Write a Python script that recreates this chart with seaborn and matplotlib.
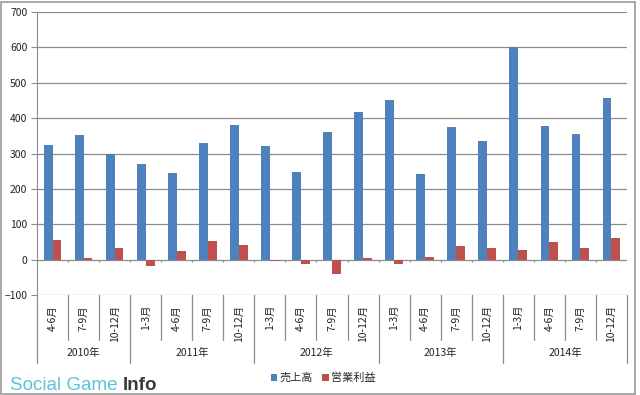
import numpy as np
import pandas as pd
import seaborn as sns
import matplotlib.pyplot as plt
import matplotlib.transforms as mtransforms
from matplotlib.patches import Rectangle, Patch

# quarterly figures
quarter_labels = [
    "4-6月", "7-9月", "10-12月",
    "1-3月", "4-6月", "7-9月", "10-12月",
    "1-3月", "4-6月", "7-9月", "10-12月",
    "1-3月", "4-6月", "7-9月", "10-12月",
    "1-3月", "4-6月", "7-9月", "10-12月",
]
year_labels = ["2010年", "2011年", "2012年", "2013年", "2014年"]
year_counts = [3, 4, 4, 4, 4]
sales = [325, 353, 299, 270, 244, 330, 381, 322, 248, 360, 416, 452, 242, 375, 335, 600, 377, 354, 456]
profit = [56, 5, 33, -17, 23, 54, 40, -5, -12, -40, 5, -12, 7, 39, 32, 27, 50, 34, 62]
series_names = ["売上高", "営業利益"]
colors = ["#4F81BD", "#C0504D"]

sns.set_style("white")
plt.rcParams["font.family"] = ["Noto Sans CJK JP", "DejaVu Sans"]

years_full = np.repeat(year_labels, year_counts)
keys = [f"{y} {q}" for y, q in zip(years_full, quarter_labels)]
df = pd.DataFrame({
    "key": keys * 2,
    "value": sales + profit,
    "series": [series_names[0]] * len(keys) + [series_names[1]] * len(keys),
})

fig = plt.figure(figsize=(6.4, 3.95), dpi=100)
ax = fig.add_axes([37 / 640, 1 - 295 / 395, 590 / 640, 283 / 395])

sns.barplot(data=df, x="key", y="value", hue="series", order=keys,
            hue_order=series_names, palette=colors, width=0.571,
            saturation=1, linewidth=0, legend=False, ax=ax)

grid_c = "#8C8C8C"
ax.set_xlim(-0.5, len(keys) - 0.5)
ax.set_ylim(-100, 700)
ax.set_yticks(range(-100, 701, 100))
ax.yaxis.grid(True, color=grid_c, lw=0.9)
ax.set_axisbelow(True)
ax.set_xticks([])
ax.set_xlabel("")
ax.set_ylabel("")
for s in ["top", "right", "bottom"]:
    ax.spines[s].set_visible(False)
ax.spines["left"].set_color(grid_c)
ax.tick_params(axis="y", left=True, length=4, color=grid_c, labelsize=7.5,
               labelcolor="#222222", pad=3)

# category tick marks on the zero line
bounds = np.arange(len(keys) + 1) - 0.5
ax.vlines(bounds, -8, 0, color=grid_c, lw=0.9)

# multi-level category axis
tr = mtransforms.blended_transform_factory(ax.transData, ax.transAxes)
year_edges = np.concatenate([[0], np.cumsum(year_counts)]) - 0.5
for b in bounds:
    long_line = np.any(np.isclose(year_edges, b))
    y_end = -0.240 if long_line else -0.159
    ax.plot([b, b], [0, y_end], transform=tr, color=grid_c, lw=0.9, clip_on=False)
for i, q in enumerate(quarter_labels):
    ax.text(i, -0.035, q, transform=tr, rotation=90, ha="center", va="top",
            fontsize=7.5, color="#222222")
for j, y in enumerate(year_labels):
    xc = (year_edges[j] + year_edges[j + 1]) / 2
    ax.text(xc, -0.205, y, transform=tr, ha="center", va="center",
            fontsize=7.5, color="#222222")

# legend
handles = [Patch(facecolor=c, edgecolor="none", label=n) for c, n in zip(colors, series_names)]
fig.legend(handles=handles, loc="center", bbox_to_anchor=(323 / 640, 1 - 378 / 395),
           ncol=2, frameon=False, fontsize=8, handlelength=0.6, handleheight=0.6,
           handletextpad=0.2, columnspacing=0.8)

# watermark
fig.text(10 / 640, 1 - 390 / 395, "Social Game", fontsize=13.5, color="#5BC2D8",
         family="Liberation Sans", va="baseline")
fig.text(123 / 640, 1 - 390 / 395, "Info", fontsize=13.5, color="#3A3A3A",
         family="Liberation Sans", weight="bold", va="baseline")

# outer frame
fig.patches.append(Rectangle((0.002, 0.003), 0.99, 0.993, transform=fig.transFigure,
                             fill=False, edgecolor="#9A9A9A", lw=1.2))

fig.savefig("out.png", dpi=100)
